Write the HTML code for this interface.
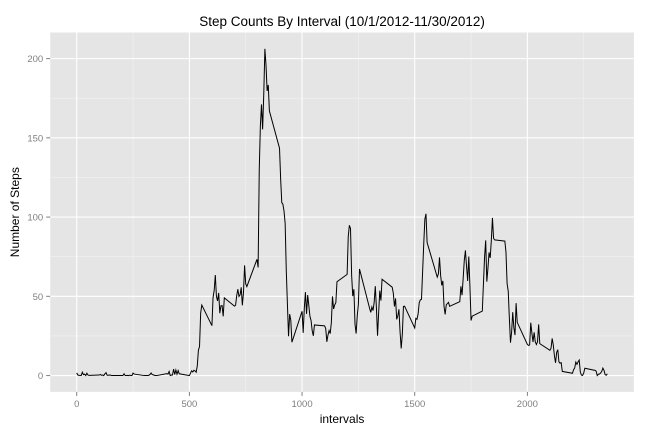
<!DOCTYPE html>
<html><head><meta charset="utf-8"><style>
body{margin:0;background:#fff;}
svg{display:block;font-family:"Liberation Sans",sans-serif;}
</style></head><body>
<svg id="chart" width="648" height="432"></svg>
<script>
const intervals=[0,5,10,15,20,25,30,35,40,45,50,55,100,105,110,115,120,125,130,135,140,145,150,155,200,205,210,215,220,225,230,235,240,245,250,255,300,305,310,315,320,325,330,335,340,345,350,355,400,405,410,415,420,425,430,435,440,445,450,455,500,505,510,515,520,525,530,535,540,545,550,555,600,605,610,615,620,625,630,635,640,645,650,655,700,705,710,715,720,725,730,735,740,745,750,755,800,805,810,815,820,825,830,835,840,845,850,855,900,905,910,915,920,925,930,935,940,945,950,955,1000,1005,1010,1015,1020,1025,1030,1035,1040,1045,1050,1055,1100,1105,1110,1115,1120,1125,1130,1135,1140,1145,1150,1155,1200,1205,1210,1215,1220,1225,1230,1235,1240,1245,1250,1255,1300,1305,1310,1315,1320,1325,1330,1335,1340,1345,1350,1355,1400,1405,1410,1415,1420,1425,1430,1435,1440,1445,1450,1455,1500,1505,1510,1515,1520,1525,1530,1535,1540,1545,1550,1555,1600,1605,1610,1615,1620,1625,1630,1635,1640,1645,1650,1655,1700,1705,1710,1715,1720,1725,1730,1735,1740,1745,1750,1755,1800,1805,1810,1815,1820,1825,1830,1835,1840,1845,1850,1855,1900,1905,1910,1915,1920,1925,1930,1935,1940,1945,1950,1955,2000,2005,2010,2015,2020,2025,2030,2035,2040,2045,2050,2055,2100,2105,2110,2115,2120,2125,2130,2135,2140,2145,2150,2155,2200,2205,2210,2215,2220,2225,2230,2235,2240,2245,2250,2255,2300,2305,2310,2315,2320,2325,2330,2335,2340,2345,2350,2355];
const steps=[1.72,0.34,0.13,0.15,0.08,2.09,0.53,0.87,0,1.47,0.3,0.13,0.32,0.68,0.15,0.34,0,1.11,1.83,0.17,0.17,0.38,0.26,0,0,0,1.13,0,0,0.13,0,0.23,0,0,1.55,0.94,0,0,0,0,0.21,0.62,1.62,0.58,0.49,0.08,0,0,1.19,0.94,2.57,0,0.34,0.36,4.11,0.66,3.49,0.83,3.11,1.11,0,1.57,3,2.25,3.32,2.96,2.09,6.06,16.02,18.34,39.45,44.49,31.49,49.26,53.77,63.45,49.96,47.08,52.15,39.34,44.02,44.17,37.36,49.04,43.81,44.38,50.51,54.51,49.92,50.98,55.68,44.32,52.26,69.55,57.85,56.15,73.38,68.21,129.43,157.53,171.15,155.4,177.3,206.17,195.92,179.57,183.4,167.02,143.45,124.04,109.11,108.11,103.72,95.96,66.21,45.23,24.79,38.75,34.98,21.06,40.57,26.98,42.42,52.66,38.92,50.79,44.28,37.42,34.7,28.34,25.09,31.94,31.36,29.68,21.32,25.55,28.38,26.47,33.43,49.98,42.04,44.6,46.04,59.19,63.87,87.7,94.85,92.77,63.4,50.17,54.47,32.42,26.53,37.74,45.06,67.28,42.34,39.89,43.26,40.98,46.25,56.43,42.75,25.13,39.96,53.55,47.32,60.81,55.75,51.96,43.58,48.7,35.47,37.55,41.85,27.51,17.11,26.08,43.62,43.77,30.02,36.08,35.49,38.85,45.96,47.75,48.13,65.32,82.91,98.66,102.11,83.96,62.13,64.13,74.55,63.17,56.91,59.77,43.87,38.57,44.66,45.45,46.21,43.68,46.62,56.3,50.72,61.23,72.72,78.94,68.94,59.66,75.09,56.51,34.77,37.45,40.68,58.02,74.7,85.32,59.26,67.77,77.7,74.25,85.34,99.45,86.58,85.6,84.87,77.83,58.04,53.36,36.32,20.72,27.4,40.02,30.21,25.55,45.66,33.53,19.62,19.02,19.34,33.34,26.81,21.17,27.3,21.34,19.55,21.32,32.3,20.15,15.94,17.23,23.45,19.25,12.45,8.02,14.66,16.3,8.68,7.79,8.13,2.62,1.45,3.68,4.81,8.51,7.08,8.7,9.75,2.21,0.32,0.11,1.6,4.6,3.3,2.85,0,0.83,0.96,1.58,2.6,4.7,3.3,0.64,0.23,1.08];
const xTicks=[0,500,1000,1500,2000];
const yTicks=[0,50,100,150,200];
const NS="http://www.w3.org/2000/svg";
const svg=document.getElementById('chart');
const L=50.2,R=633.9,T=32.5,B=391.9;
const xMin=-117.75,xMax=2472.75,yMin=-10.31,yMax=216.48;
function xs(v){return L+(v-xMin)/(xMax-xMin)*(R-L);}
function ys(v){return B-(v-yMin)/(yMax-yMin)*(B-T);}
function mk(tag,attrs,parent){const e=document.createElementNS(NS,tag);for(const k in attrs)e.setAttribute(k,attrs[k]);(parent||svg).appendChild(e);return e;}
const panel=mk('rect',{x:L,y:T,width:R-L,height:B-T,fill:'#e5e5e5'});


for(let i=0;i<xTicks.length-1;i++){const m=(xTicks[i]+xTicks[i+1])/2;const g=mk('line',{x1:xs(m),x2:xs(m),y1:T,y2:B,stroke:'#f2f2f2','stroke-width':0.6});}
{const e=mk('line',{x1:xs(2250),x2:xs(2250),y1:T,y2:B,stroke:'#f2f2f2','stroke-width':0.6});}
for(let i=0;i<yTicks.length-1;i++){const m=(yTicks[i]+yTicks[i+1])/2;const g=mk('line',{x1:L,x2:R,y1:ys(m),y2:ys(m),stroke:'#f2f2f2','stroke-width':0.6});}
xTicks.forEach(t=>{const g=mk('line',{x1:xs(t),x2:xs(t),y1:T,y2:B,stroke:'#fff','stroke-width':1.1});
const tk=mk('line',{x1:xs(t),x2:xs(t),y1:B,y2:B+4,stroke:'#7f7f7f','stroke-width':1});
const lb=mk('text',{x:xs(t),y:B+15,'text-anchor':'middle','font-size':9.5,fill:'#7f7f7f'});lb.textContent=t;});
yTicks.forEach(t=>{const g=mk('line',{x1:L,x2:R,y1:ys(t),y2:ys(t),stroke:'#fff','stroke-width':1.1});
const tk=mk('line',{x1:L-4,x2:L,y1:ys(t),y2:ys(t),stroke:'#7f7f7f','stroke-width':1});
const lb=mk('text',{x:L-7,y:ys(t)+3.5,'text-anchor':'end','font-size':9.5,fill:'#7f7f7f'});lb.textContent=t;});
const d=intervals.map((v,i)=>(i?'L':'M')+xs(v).toFixed(2)+','+ys(steps[i]).toFixed(2)).join('');
const line=mk('path',{d:d,fill:'none',stroke:'#000','stroke-width':1});


const title=mk('text',{x:(L+R)/2,y:26,'text-anchor':'middle','font-size':13.5,fill:'#000'});title.textContent='Step Counts By Interval (10/1/2012-11/30/2012)';


const xt=mk('text',{x:(L+R)/2,y:423,'text-anchor':'middle','font-size':12,fill:'#000'});xt.textContent='intervals';


const yt=mk('text',{x:0,y:0,'text-anchor':'middle','font-size':12,fill:'#000',transform:'translate(19,'+((T+B)/2)+') rotate(-90)'});yt.textContent='Number of Steps';


</script>
</body></html>
